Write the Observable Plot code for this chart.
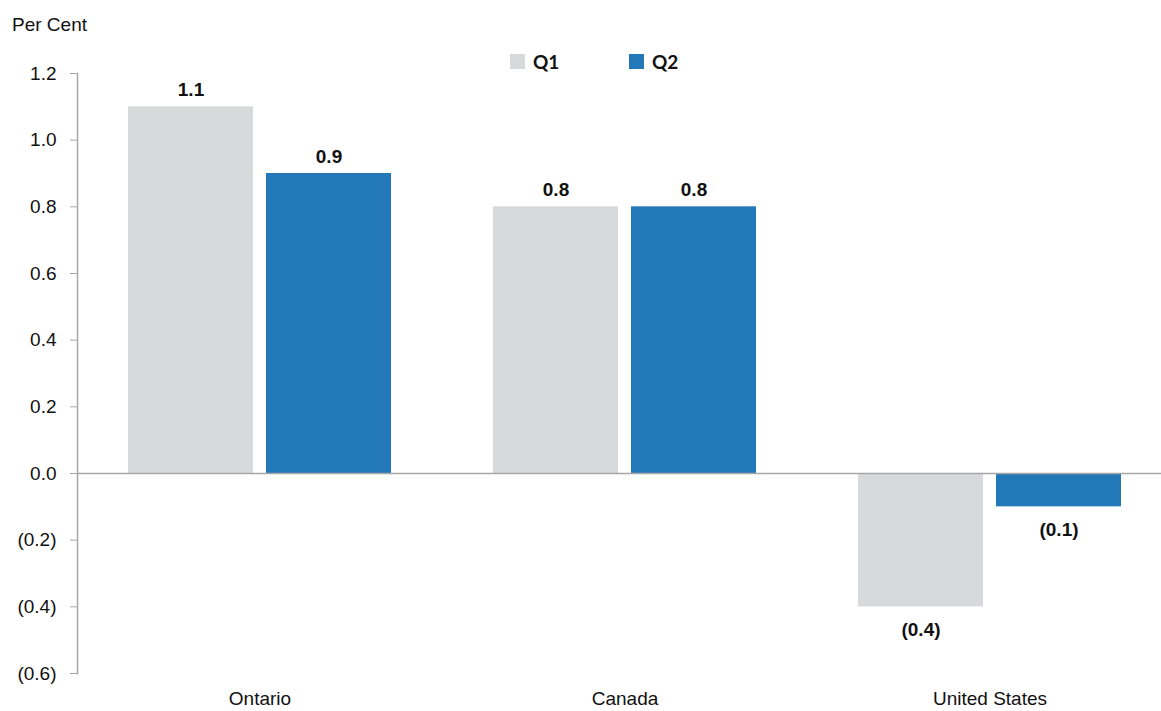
<!DOCTYPE html>
<html>
<head>
<meta charset="utf-8">
<script src="https://cdn.jsdelivr.net/npm/d3@7"></script>
<script src="https://cdn.jsdelivr.net/npm/@observablehq/plot@0.6"></script>
<style>
  html, body { margin: 0; padding: 0; background: #fff; }
  #wrap { position: relative; width: 1161px; height: 711px; }
  #unit { position: absolute; left: 12px; top: 14px; font: 19px "Liberation Sans", Arial, sans-serif; color: #111; }
  #legend { position: absolute; left: 510px; top: 50px; display: flex; gap: 0; font: 700 19px Lato, "Open Sans", sans-serif; color: #111; }
  .item { display: flex; align-items: center; width: 119px; }
  .sw { width: 15px; height: 15px; margin-right: 8px; }
</style>
</head>
<body>
<div id="wrap">
  <div id="chart"></div>
  <div id="unit">Per Cent</div>
  <div id="legend"></div>
</div>
<script>
const countries = ["Ontario", "Canada", "United States"];
const seriesNames = ["Q1", "Q2"];
const q1Values = [1.1, 0.8, -0.4];
const q2Values = [0.9, 0.8, -0.1];
const yTicks = [-0.6, -0.4, -0.2, 0, 0.2, 0.4, 0.6, 0.8, 1.0, 1.2];
const colors = ["#d8d9db", "#2378b8"];

const data = countries.flatMap((c, i) => [
  {country: c, series: "Q1", value: q1Values[i]},
  {country: c, series: "Q2", value: q2Values[i]}
]);
const q1 = data.filter(d => d.series === "Q1");
const q2 = data.filter(d => d.series === "Q2");

const fmt = v => {
  const s = Math.abs(v).toFixed(1);
  return v < 0 ? `(${s})` : s;
};

const font = '"Liberation Sans", Arial, sans-serif';

const labelMarks = (arr, dx) => [
  Plot.text(arr.filter(d => d.value >= 0), {x: "country", y: "value", text: d => fmt(d.value), dx, dy: -11, lineAnchor: "bottom", fontWeight: "bold", fontSize: 19, fill: "#111"}),
  Plot.text(arr.filter(d => d.value < 0), {x: "country", y: "value", text: d => fmt(d.value), dx, dy: 16, lineAnchor: "top", fontWeight: "bold", fontSize: 19, fill: "#111"})
];

const chart = Plot.plot({
  width: 1161,
  height: 711,
  marginTop: 73,
  marginBottom: 38,
  marginLeft: 77,
  marginRight: 0,
  style: {fontFamily: font, fontSize: "19px", color: "#111", background: "#fff"},
  x: {domain: countries, range: [77, 1172], padding: 0, label: null},
  y: {domain: [-0.6, 1.2], label: null},
  color: {domain: seriesNames, range: colors},
  marks: [
    Plot.barY(q1, {x: "country", y: "value", fill: colors[0], insetLeft: 51, insetRight: 189}),
    Plot.barY(q2, {x: "country", y: "value", fill: colors[1], insetLeft: 189, insetRight: 51}),
    Plot.ruleY([0], {stroke: "#a6a6a6", strokeWidth: 1.5}),
    Plot.frame({anchor: "left", stroke: "#a6a6a6", strokeWidth: 1.5}),
    Plot.axisY({ticks: yTicks, tickSize: 7, tickPadding: 14, tickFormat: fmt, stroke: "#a6a6a6", label: null}),
    Plot.axisX({tickSize: 0, tickPadding: 18, label: null}),
    ...labelMarks(q1, -69),
    ...labelMarks(q2, 69)
  ]
});
document.getElementById("chart").appendChild(chart);

const legend = document.getElementById("legend");
seriesNames.forEach((s, i) => {
  const item = document.createElement("div");
  item.className = "item";
  const sw = document.createElement("div");
  sw.className = "sw";
  sw.style.background = colors[i];
  const t = document.createElement("span");
  t.textContent = s;
  item.appendChild(sw);
  item.appendChild(t);
  legend.appendChild(item);
});
</script>
</body>
</html>
